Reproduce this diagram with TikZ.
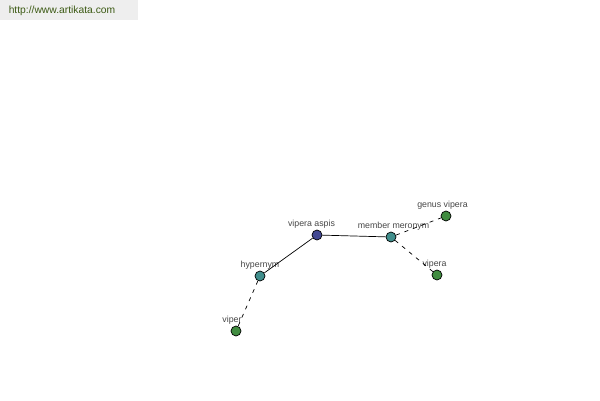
\documentclass[tikz,border=0pt]{standalone}
\usepackage{fontspec}
\setmainfont{Liberation Sans}
\usetikzlibrary{positioning}

\definecolor{rootblue}{RGB}{66,72,146}
\definecolor{relteal}{RGB}{64,142,140}
\definecolor{leafgreen}{RGB}{64,140,64}
\definecolor{labelgray}{RGB}{70,70,70}
\definecolor{headgray}{RGB}{238,238,238}
\definecolor{headgreen}{RGB}{60,90,20}

\begin{document}
\begin{tikzpicture}[
    x=1pt, y=-1pt,
    line width=0.7pt,
    main/.style = {
        draw,
        circle,
        minimum size=10pt,
        inner sep=0pt
    },
    root/.style = {main, fill=rootblue},
    rel/.style = {main, fill=relteal},
    leaf/.style = {main, fill=leafgreen},
    lbl/.style = {
        font=\fontsize{8.8}{10}\selectfont,
        text=labelgray,
        inner sep=0.5pt
    },
    link/.style = {
        black
    },
    weak/.style = {
        black,
        dash pattern=on 4pt off 5pt
    }
]
  \useasboundingbox (0,0) rectangle (600,400);
  \fill[headgray] (0,0) rectangle (138,20);
  \node[font=\fontsize{10.3}{12}\selectfont, text=headgreen] (site) at (62,11) {http://www.artikata.com};

  \node[root] (aspis) at (317,235) [label={[lbl,xshift=-5.5pt,label distance=0pt]above:vipera aspis}] {};
  \node[rel] (meronym) at (391,237) [label={[lbl,xshift=2.5pt,label distance=0pt]above:member meronym}] {};
  \node[leaf] (genus) at (446,216) [label={[lbl,xshift=-3.5pt,label distance=0pt]above:genus vipera}] {};
  \node[leaf] (vipera) at (437,275) [label={[lbl,xshift=-2.5pt,label distance=0pt]above:vipera}] {};
  \node[rel] (hypernym) at (260,276) [label={[lbl,label distance=0pt]above:hypernym}] {};
  \node[leaf] (viper) at (236,331) [label={[lbl,xshift=-4pt,label distance=0pt]above:viper}] {};

  \draw[link] (hypernym) -- (aspis);
  \draw[link] (aspis) -- (meronym);
  \draw[weak] (meronym) -- (genus);
  \draw[weak] (meronym) -- (vipera);
  \draw[weak] (hypernym) -- (viper);
\end{tikzpicture}
\end{document}
